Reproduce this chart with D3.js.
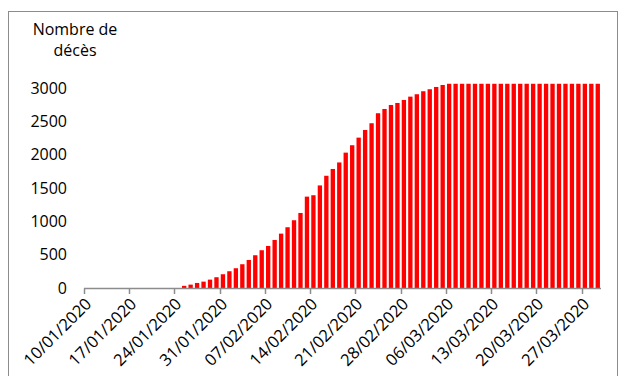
<!DOCTYPE html>
<html>
<head>
<meta charset="utf-8">
<script src="https://cdn.jsdelivr.net/npm/d3@7"></script>
<style>
  html, body { margin: 0; padding: 0; background: #fff; }
  text { font-family: "Open Sans", sans-serif; fill: #000; }
</style>
</head>
<body>
<svg id="chart" width="626" height="376"></svg>
<script>
// ---- data ----
const startDate = "10/01/2020";
const dayCount = 80;
const deaths = [
  0, 0, 0, 0, 0, 0, 0, 0, 0, 0,
  0, 0, 0, 0, 0, 40, 58, 83, 103, 133,
  169, 214, 259, 304, 364, 428, 499, 574, 638, 728,
  823, 919, 1024, 1133, 1378, 1399, 1546, 1691, 1793, 1891,
  2038, 2149, 2263, 2378, 2479, 2629, 2693, 2753, 2783, 2828,
  2878, 2914, 2959, 2989, 3023, 3053, 3071, 3071, 3071, 3071,
  3071, 3071, 3071, 3071, 3071, 3071, 3071, 3071, 3071, 3071,
  3071, 3071, 3071, 3071, 3071, 3071, 3071, 3071, 3071, 3071
];
const yTicks = [0, 500, 1000, 1500, 2000, 2500, 3000];
const xTickLabels = ["10/01/2020", "17/01/2020", "24/01/2020", "31/01/2020", "07/02/2020",
  "14/02/2020", "21/02/2020", "28/02/2020", "06/03/2020", "13/03/2020", "20/03/2020", "27/03/2020"];
const titleLines = ["Nombre de", "décès"];

// ---- build ----
const parse = d3.timeParse("%d/%m/%Y");
const fmt = d3.timeFormat("%d/%m/%Y");
const d0 = parse(startDate);
const days = d3.range(dayCount).map(i => fmt(d3.timeDay.offset(d0, i)));

const svg = d3.select("#chart");
const grey = "#8c8c8c";

svg.append("rect")
  .attr("x", 8.5).attr("y", 11.5).attr("width", 609).attr("height", 380)
  .attr("fill", "none").attr("stroke", grey).attr("stroke-width", 1);

const x = d3.scaleBand().domain(days).range([84, 601]).paddingInner(0.33).paddingOuter(0.165);
const xEdge = d3.scaleLinear().domain([0, dayCount]).range([84, 601]);
const y = d3.scaleLinear().domain([0, 3000]).range([288.5, 88.5]);

// bars
svg.append("g").selectAll("rect").data(days).join("rect")
  .attr("x", d => x(d))
  .attr("width", x.bandwidth())
  .attr("y", (d, i) => y(deaths[i]))
  .attr("height", (d, i) => y(0) - y(deaths[i]))
  .attr("fill", "#ff0000");

// x axis line + ticks
const ax = svg.append("g");
ax.append("line").attr("x1", 84).attr("x2", 601).attr("y1", 288.5).attr("y2", 288.5)
  .attr("stroke", grey).attr("stroke-width", 1.5);
xTickLabels.forEach(lbl => {
  const idx = days.indexOf(lbl);
  const tx = Math.round(xEdge(idx)) + 0.5;
  ax.append("line").attr("x1", tx).attr("x2", tx).attr("y1", 288.5).attr("y2", 294)
    .attr("stroke", grey).attr("stroke-width", 1.5);
  ax.append("text")
    .attr("transform", `translate(${tx + 8},${305}) rotate(-45)`)
    .attr("text-anchor", "end")
    .attr("font-size", 16.5)
    .text(lbl);
});

// y labels
svg.append("g").selectAll("text").data(yTicks).join("text")
  .attr("x", 67).attr("y", d => y(d)).attr("dy", "0.32em")
  .attr("text-anchor", "end").attr("font-size", 16)
  .text(d => d);

// title
svg.append("g").selectAll("text").data(titleLines).join("text")
  .attr("x", 75).attr("y", (d, i) => 35 + i * 21)
  .attr("text-anchor", "middle").attr("font-size", 16)
  .text(d => d);
</script>
</body>
</html>
